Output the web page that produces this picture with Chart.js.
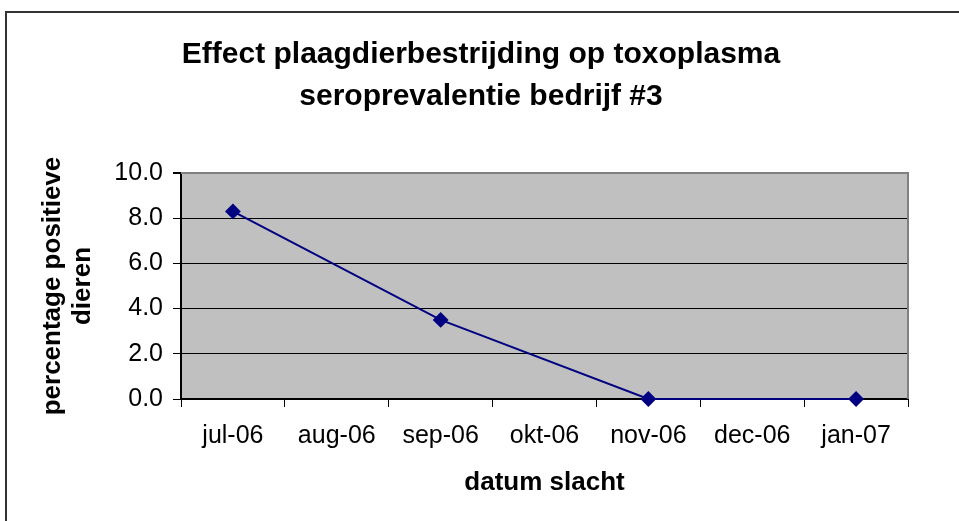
<!DOCTYPE html>
<html>
<head>
<meta charset="utf-8">
<script src="https://cdn.jsdelivr.net/npm/chart.js@4/dist/chart.umd.min.js"></script>
<style>
html,body{margin:0;padding:0;background:#fff;}
#wrap{width:959px;height:521px;position:relative;}
</style>
</head>
<body>
<div id="wrap"><canvas id="c" width="959" height="521"></canvas></div>
<script>
const titleLines = ['Effect plaagdierbestrijding op toxoplasma', 'seroprevalentie bedrijf #3'];
const yTitleLines = ['percentage positieve', 'dieren'];
const xTitle = 'datum slacht';
const categories = ['jul-06', 'aug-06', 'sep-06', 'okt-06', 'nov-06', 'dec-06', 'jan-07'];
const seroValues = [8.3, null, 3.5, null, 0.0, null, 0.0];
const yTicks = [0, 2, 4, 6, 8, 10];

const FONT = "'Liberation Sans', Arial, sans-serif";

const decor = {
  id: 'decor',
  beforeDraw(chart) {
    const ctx = chart.ctx, a = chart.chartArea;
    ctx.save();
    ctx.fillStyle = '#ffffff';
    ctx.fillRect(0, 0, chart.width, chart.height);
    ctx.strokeStyle = '#333333';
    ctx.lineWidth = 2;
    ctx.strokeRect(6, 12, chart.width + 20, chart.height + 20);
    ctx.fillStyle = '#c0c0c0';
    ctx.fillRect(a.left, a.top, a.right - a.left, a.bottom - a.top);
    // title
    ctx.fillStyle = '#000';
    ctx.font = 'bold 30px ' + FONT;
    ctx.textAlign = 'center';
    ctx.textBaseline = 'middle';
    ctx.fillText(titleLines[0], 481, 55);
    ctx.fillText(titleLines[1], 481, 97);
    ctx.restore();
  },
  beforeDatasetsDraw(chart) {
    const ctx = chart.ctx, a = chart.chartArea;
    ctx.save();
    ctx.strokeStyle = '#808080';
    ctx.lineWidth = 2;
    ctx.beginPath();
    ctx.moveTo(a.left, a.top);
    ctx.lineTo(a.right, a.top);
    ctx.lineTo(a.right, a.bottom);
    ctx.stroke();
    ctx.restore();
  }
};

new Chart(document.getElementById('c'), {
  type: 'line',
  data: {
    labels: categories,
    datasets: [{
      data: seroValues,
      borderColor: '#000080',
      backgroundColor: '#000080',
      borderWidth: 2,
      pointStyle: 'rectRot',
      pointRadius: 6.5,
      pointHoverRadius: 6.5,
      spanGaps: true,
      tension: 0,
      clip: false
    }]
  },
  options: {
    responsive: false,
    animation: false,
    events: [],
    layout: { padding: { left: 0, right: 51, top: 173, bottom: 0 } },
    plugins: { legend: { display: false }, tooltip: { enabled: false }, title: { display: false } },
    scales: {
      x: {
        type: 'category',
        offset: true,
        grid: { offset: true, drawOnChartArea: false, drawTicks: true, tickLength: 8, color: '#000', tickColor: '#000', lineWidth: 1 },
        border: { display: true, color: '#000', width: 2 },
        ticks: { color: '#000', font: { family: FONT, size: 25 }, padding: 14, maxRotation: 0, autoSkip: false },
        title: { display: true, text: xTitle, color: '#000', font: { family: FONT, size: 26, weight: 'bold', lineHeight: '30px' }, padding: { top: 0, bottom: 23 } },
        afterFit(s) { s.height = 122; }
      },
      y: {
        min: 0, max: 10,
        afterBuildTicks(s) { s.ticks = yTicks.map(v => ({ value: v })); },
        grid: {
          drawTicks: true, tickLength: 8,
          color: (c) => (c.tick && c.tick.value === 10) ? '#808080' : '#000',
          lineWidth: (c) => (c.tick && c.tick.value === 10) ? 2 : 1,
          tickColor: '#000'
        },
        border: { display: true, color: '#000', width: 2 },
        ticks: { color: '#000', font: { family: FONT, size: 25 }, padding: 10, callback: (v) => Number(v).toFixed(1) },
        title: { display: true, text: yTitleLines, color: '#000', font: { family: FONT, size: 26, weight: 'bold', lineHeight: '30px' }, padding: { top: 38, bottom: 0 } },
        afterFit(s) { s.width = 181; }
      }
    }
  },
  plugins: [decor]
});
</script>
</body>
</html>
